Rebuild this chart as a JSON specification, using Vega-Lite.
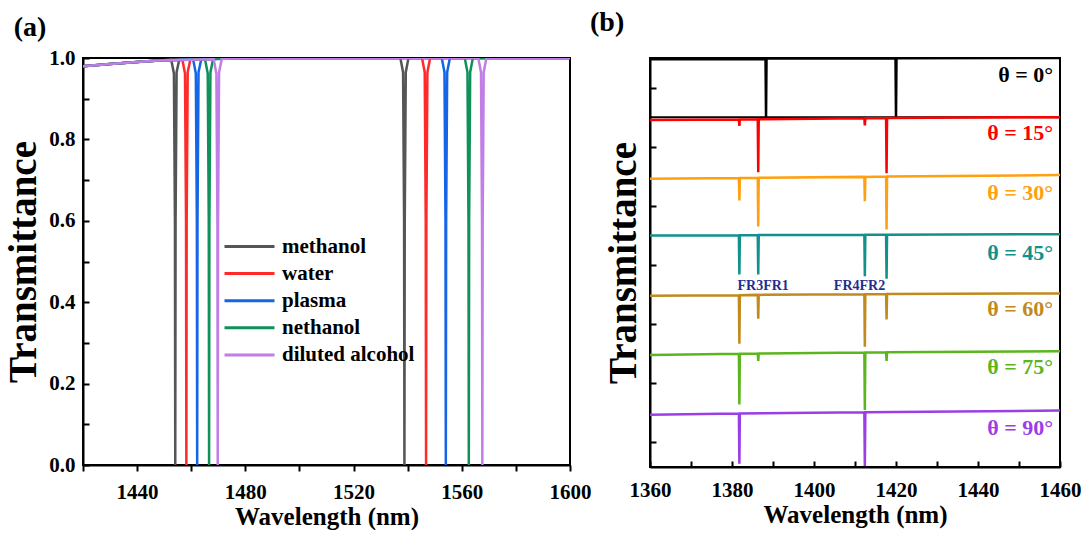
{
  "$schema": "https://vega.github.io/schema/vega-lite/v6.json",
  "background": "white",
  "padding": {"left": 3, "top": 8, "right": 5, "bottom": 0},
  "config": {
    "font": "Liberation Serif",
    "view": {"stroke": "black", "strokeWidth": 2},
    "axis": {
      "domainColor": "black", "domainWidth": 2, "tickColor": "black", "tickWidth": 2,
      "labelFont": "Liberation Serif", "labelFontWeight": "bold", "labelColor": "black", "labelFontSize": 21,
      "titleFont": "Liberation Serif", "titleFontWeight": "bold", "titleColor": "black",
      "grid": false
    },
    "legend": {"labelFont": "Liberation Serif", "labelFontWeight": "bold", "labelColor": "black"}
  },
  "resolve": {"scale": {"color": "independent"}, "legend": {"color": "independent"}},
  "bounds": "flush",
  "spacing": 80,
  "hconcat": [
    {
      "width": 487, "height": 407,
      "title": {"text": "(a)", "anchor": "start", "frame": "bounds", "fontSize": 28, "font": "Liberation Serif", "fontWeight": "bold", "offset": 18, "dx": 9, "dy": 13, "color": "black"},
      "data": {"values": [
        {"s":"methanol","w":1420,"t":0.98},{"s":"methanol","w":1430,"t":0.985},{"s":"methanol","w":1440,"t":0.99},{"s":"methanol","w":1448,"t":0.994},
        {"s":"methanol","w":1452.6,"t":0.996},{"s":"methanol","w":1453.6,"t":0.962},{"s":"methanol","w":1453.98,"t":0.6},{"s":"methanol","w":1454.1,"t":0},{"s":"methanol","w":1454.22,"t":0.6},{"s":"methanol","w":1454.6,"t":0.965},{"s":"methanol","w":1455.6,"t":0.997},
        {"s":"methanol","w":1490,"t":1.0},
        {"s":"methanol","w":1537.3,"t":1.0},{"s":"methanol","w":1538.3,"t":0.965},{"s":"methanol","w":1538.68,"t":0.6},{"s":"methanol","w":1538.8,"t":0},{"s":"methanol","w":1538.92,"t":0.6},{"s":"methanol","w":1539.3,"t":0.965},{"s":"methanol","w":1540.3,"t":1.0},
        {"s":"methanol","w":1600,"t":1.0},

        {"s":"water","w":1420,"t":0.98},{"s":"water","w":1430,"t":0.985},{"s":"water","w":1440,"t":0.99},{"s":"water","w":1448,"t":0.994},
        {"s":"water","w":1456.7,"t":0.996},{"s":"water","w":1457.7,"t":0.962},{"s":"water","w":1458.08,"t":0.6},{"s":"water","w":1458.2,"t":0},{"s":"water","w":1458.32,"t":0.6},{"s":"water","w":1458.7,"t":0.965},{"s":"water","w":1459.7,"t":0.997},
        {"s":"water","w":1490,"t":1.0},
        {"s":"water","w":1545.3,"t":1.0},{"s":"water","w":1546.3,"t":0.965},{"s":"water","w":1546.68,"t":0.6},{"s":"water","w":1546.8,"t":0},{"s":"water","w":1546.92,"t":0.6},{"s":"water","w":1547.3,"t":0.965},{"s":"water","w":1548.3,"t":1.0},
        {"s":"water","w":1600,"t":1.0},

        {"s":"plasma","w":1420,"t":0.98},{"s":"plasma","w":1430,"t":0.985},{"s":"plasma","w":1440,"t":0.99},{"s":"plasma","w":1448,"t":0.994},
        {"s":"plasma","w":1460.7,"t":0.997},{"s":"plasma","w":1461.7,"t":0.962},{"s":"plasma","w":1462.08,"t":0.6},{"s":"plasma","w":1462.2,"t":0},{"s":"plasma","w":1462.32,"t":0.6},{"s":"plasma","w":1462.7,"t":0.965},{"s":"plasma","w":1463.7,"t":0.997},
        {"s":"plasma","w":1490,"t":1.0},
        {"s":"plasma","w":1552.6,"t":1.0},{"s":"plasma","w":1553.6,"t":0.965},{"s":"plasma","w":1553.98,"t":0.6},{"s":"plasma","w":1554.1,"t":0},{"s":"plasma","w":1554.22,"t":0.6},{"s":"plasma","w":1554.6,"t":0.965},{"s":"plasma","w":1555.6,"t":1.0},
        {"s":"plasma","w":1600,"t":1.0},

        {"s":"nethanol","w":1420,"t":0.98},{"s":"nethanol","w":1430,"t":0.985},{"s":"nethanol","w":1440,"t":0.99},{"s":"nethanol","w":1448,"t":0.994},
        {"s":"nethanol","w":1465.1,"t":0.997},{"s":"nethanol","w":1466.1,"t":0.962},{"s":"nethanol","w":1466.48,"t":0.6},{"s":"nethanol","w":1466.6,"t":0},{"s":"nethanol","w":1466.72,"t":0.6},{"s":"nethanol","w":1467.1,"t":0.965},{"s":"nethanol","w":1468.1,"t":0.998},
        {"s":"nethanol","w":1490,"t":1.0},
        {"s":"nethanol","w":1561.1,"t":1.0},{"s":"nethanol","w":1562.1,"t":0.965},{"s":"nethanol","w":1562.48,"t":0.6},{"s":"nethanol","w":1562.6,"t":0},{"s":"nethanol","w":1562.72,"t":0.6},{"s":"nethanol","w":1563.1,"t":0.965},{"s":"nethanol","w":1564.1,"t":1.0},
        {"s":"nethanol","w":1600,"t":1.0},

        {"s":"diluted alcohol","w":1420,"t":0.98},{"s":"diluted alcohol","w":1430,"t":0.985},{"s":"diluted alcohol","w":1440,"t":0.99},{"s":"diluted alcohol","w":1448,"t":0.994},
        {"s":"diluted alcohol","w":1468.3,"t":0.997},{"s":"diluted alcohol","w":1469.3,"t":0.962},{"s":"diluted alcohol","w":1469.68,"t":0.6},{"s":"diluted alcohol","w":1469.8,"t":0},{"s":"diluted alcohol","w":1469.92,"t":0.6},{"s":"diluted alcohol","w":1470.3,"t":0.965},{"s":"diluted alcohol","w":1471.3,"t":0.998},
        {"s":"diluted alcohol","w":1490,"t":1.0},
        {"s":"diluted alcohol","w":1566.1,"t":1.0},{"s":"diluted alcohol","w":1567.1,"t":0.965},{"s":"diluted alcohol","w":1567.48,"t":0.6},{"s":"diluted alcohol","w":1567.6,"t":0},{"s":"diluted alcohol","w":1567.72,"t":0.6},{"s":"diluted alcohol","w":1568.1,"t":0.965},{"s":"diluted alcohol","w":1569.1,"t":1.0},
        {"s":"diluted alcohol","w":1600,"t":1.0}
      ]},
      "mark": {"type": "line", "strokeWidth": 2.5, "clip": true},
      "encoding": {
        "x": {"field": "w", "type": "quantitative",
          "scale": {"domain": [1420, 1600], "nice": false, "zero": false},
          "axis": {"title": "Wavelength (nm)", "titleFontSize": 25, "titlePadding": 2,
            "values": [1420,1440,1460,1480,1500,1520,1540,1560,1580,1600],
            "format": "d", "labelExpr": "datum.value % 40 === 0 ? datum.label : ''",
            "tickSize": 6, "labelPadding": 10, "labelFlush": false}},
        "y": {"field": "t", "type": "quantitative",
          "scale": {"domain": [0, 1], "nice": false, "zero": false},
          "axis": {"title": "Transmittance", "titleFontSize": 39, "titlePadding": 5,
            "values": [0,0.1,0.2,0.3,0.4,0.5,0.6,0.7,0.8,0.9,1.0],
            "labelExpr": "round(datum.value*10) % 2 === 0 ? format(datum.value, '.1f') : ''",
            "tickSize": -6, "labelPadding": 14, "labelFlush": false}},
        "color": {"field": "s", "type": "nominal",
          "scale": {"domain": ["methanol","water","plasma","nethanol","diluted alcohol"],
                    "range": ["#555555","#ff2a2a","#1565e6","#10915a","#c07ee6"]},
          "legend": {"title": null, "orient": "none", "legendX": 155, "legendY": 177, "padding": 0,
            "labelFontSize": 21, "symbolType": "M-2.5,0H2.5", "symbolSize": 400, "symbolStrokeWidth": 3,
            "labelOffset": 21, "rowPadding": 5.1}}
      }
    },
    {
      "width": 410, "height": 409,
      "title": {"text": "(b)", "anchor": "start", "frame": "bounds", "fontSize": 28, "font": "Liberation Serif", "fontWeight": "bold", "offset": 18, "dx": -14, "dy": -3, "color": "black"},
      "layer": [
        {
          "data": {"values": [{"y": 0}]},
          "mark": {"type": "rule", "color": "black", "strokeWidth": 2},
          "encoding": {"y": {"field": "y", "type": "quantitative"}}
        },
        {
          "data": {"values": [
            {"a":"0","w":1360,"t":0.98},{"a":"0","w":1388.18,"t":0.98},{"a":"0","w":1388.3,"t":0},{"a":"0","w":1388.42,"t":0.99},{"a":"0","w":1419.88,"t":0.995},{"a":"0","w":1420,"t":0},{"a":"0","w":1420.12,"t":0.995},{"a":"0","w":1460,"t":1.0},

            {"a":"15","w":1360,"t":-0.05},{"a":"15","w":1381.68,"t":-0.04},{"a":"15","w":1381.8,"t":-0.15},{"a":"15","w":1381.92,"t":-0.04},{"a":"15","w":1386.28,"t":-0.035},{"a":"15","w":1386.4,"t":-0.93},{"a":"15","w":1386.52,"t":-0.035},{"a":"15","w":1412.28,"t":-0.02},{"a":"15","w":1412.4,"t":-0.14},{"a":"15","w":1412.52,"t":-0.02},{"a":"15","w":1417.58,"t":-0.015},{"a":"15","w":1417.7,"t":-0.95},{"a":"15","w":1417.82,"t":-0.015},{"a":"15","w":1460,"t":0.0},

            {"a":"30","w":1360,"t":-1.04},{"a":"30","w":1381.68,"t":-1.03},{"a":"30","w":1381.8,"t":-1.41},{"a":"30","w":1381.92,"t":-1.03},{"a":"30","w":1386.28,"t":-1.025},{"a":"30","w":1386.4,"t":-1.85},{"a":"30","w":1386.52,"t":-1.025},{"a":"30","w":1412.28,"t":-1.01},{"a":"30","w":1412.4,"t":-1.42},{"a":"30","w":1412.52,"t":-1.01},{"a":"30","w":1417.58,"t":-1.005},{"a":"30","w":1417.7,"t":-1.9},{"a":"30","w":1417.82,"t":-1.005},{"a":"30","w":1460,"t":-0.98},

            {"a":"45","w":1360,"t":-2.0},{"a":"45","w":1381.68,"t":-1.995},{"a":"45","w":1381.8,"t":-2.66},{"a":"45","w":1381.92,"t":-1.995},{"a":"45","w":1386.28,"t":-1.993},{"a":"45","w":1386.4,"t":-2.66},{"a":"45","w":1386.52,"t":-1.993},{"a":"45","w":1412.28,"t":-1.988},{"a":"45","w":1412.4,"t":-2.69},{"a":"45","w":1412.52,"t":-1.988},{"a":"45","w":1417.58,"t":-1.987},{"a":"45","w":1417.7,"t":-2.73},{"a":"45","w":1417.82,"t":-1.987},{"a":"45","w":1460,"t":-1.98},

            {"a":"60","w":1360,"t":-3.02},{"a":"60","w":1381.68,"t":-3.01},{"a":"60","w":1381.8,"t":-3.83},{"a":"60","w":1381.92,"t":-3.01},{"a":"60","w":1386.28,"t":-3.005},{"a":"60","w":1386.4,"t":-3.41},{"a":"60","w":1386.52,"t":-3.005},{"a":"60","w":1412.28,"t":-2.995},{"a":"60","w":1412.4,"t":-3.88},{"a":"60","w":1412.52,"t":-2.995},{"a":"60","w":1417.58,"t":-2.99},{"a":"60","w":1417.7,"t":-3.42},{"a":"60","w":1417.82,"t":-2.99},{"a":"60","w":1460,"t":-2.98},

            {"a":"75","w":1360,"t":-4.02},{"a":"75","w":1381.68,"t":-4.0},{"a":"75","w":1381.8,"t":-4.86},{"a":"75","w":1381.92,"t":-4.0},{"a":"75","w":1386.28,"t":-3.995},{"a":"75","w":1386.4,"t":-4.12},{"a":"75","w":1386.52,"t":-3.995},{"a":"75","w":1412.28,"t":-3.98},{"a":"75","w":1412.4,"t":-4.95},{"a":"75","w":1412.52,"t":-3.98},{"a":"75","w":1417.58,"t":-3.975},{"a":"75","w":1417.7,"t":-4.12},{"a":"75","w":1417.82,"t":-3.975},{"a":"75","w":1460,"t":-3.96},

            {"a":"90","w":1360,"t":-5.03},{"a":"90","w":1381.68,"t":-5.01},{"a":"90","w":1381.8,"t":-5.86},{"a":"90","w":1381.92,"t":-5.01},{"a":"90","w":1412.28,"t":-4.99},{"a":"90","w":1412.4,"t":-5.9},{"a":"90","w":1412.52,"t":-4.99},{"a":"90","w":1460,"t":-4.96}
          ]},
          "mark": {"type": "line", "strokeWidth": 2.5, "clip": true},
          "encoding": {
            "x": {"field": "w", "type": "quantitative",
              "scale": {"domain": [1360, 1460], "nice": false, "zero": false},
              "axis": {"title": "Wavelength (nm)", "titleFontSize": 25, "titlePadding": 2,
                "values": [1360,1370,1380,1390,1400,1410,1420,1430,1440,1450,1460],
                "format": "d", "labelExpr": "datum.value % 20 === 0 ? datum.label : ''",
                "tickSize": -6, "labelPadding": 18, "labelFlush": false}},
            "y": {"field": "t", "type": "quantitative",
              "scale": {"domain": [-5.915, 1], "nice": false, "zero": false},
              "axis": {"title": "Transmittance", "titleFontSize": 39, "titlePadding": 0,
                "values": [1,0.5,0,-0.5,-1,-1.5,-2,-2.5,-3,-3.5,-4,-4.5,-5,-5.5],
                "labelExpr": "datum.value === 1 ? '1' : (datum.value === 0 ? '0' : '')",
                "tickSize": -6, "labelPadding": 13, "labelFlush": false}},
            "color": {"field": "a", "type": "nominal",
              "scale": {"domain": ["0","15","30","45","60","75","90"],
                        "range": ["#000000","#ff0000","#ffa010","#12908c","#c08a1e","#5cb51e","#9a3ee6"]},
              "legend": null}
          }
        },
        {
          "data": {"values": [
            {"a":"0","lab":"θ = 0°","w":1458.3,"t":0.72},
            {"a":"15","lab":"θ = 15°","w":1458.3,"t":-0.27},
            {"a":"30","lab":"θ = 30°","w":1458.3,"t":-1.28},
            {"a":"45","lab":"θ = 45°","w":1458.3,"t":-2.29},
            {"a":"60","lab":"θ = 60°","w":1458.3,"t":-3.24},
            {"a":"75","lab":"θ = 75°","w":1458.3,"t":-4.22},
            {"a":"90","lab":"θ = 90°","w":1458.3,"t":-5.26}
          ]},
          "mark": {"type": "text", "align": "right", "baseline": "middle", "fontSize": 22, "fontWeight": "bold", "font": "Liberation Serif"},
          "encoding": {
            "x": {"field": "w", "type": "quantitative"},
            "y": {"field": "t", "type": "quantitative"},
            "text": {"field": "lab"},
            "color": {"field": "a", "type": "nominal", "legend": null}
          }
        },
        {
          "data": {"values": [
            {"lab":"FR3FR1","w":1387.6,"t":-2.85},
            {"lab":"FR4FR2","w":1411.1,"t":-2.85}
          ]},
          "mark": {"type": "text", "align": "center", "baseline": "middle", "fontSize": 14, "fontWeight": "bold", "font": "Liberation Serif", "color": "#1f2f8f"},
          "encoding": {
            "x": {"field": "w", "type": "quantitative"},
            "y": {"field": "t", "type": "quantitative"},
            "text": {"field": "lab"}
          }
        }
      ]
    }
  ]
}
